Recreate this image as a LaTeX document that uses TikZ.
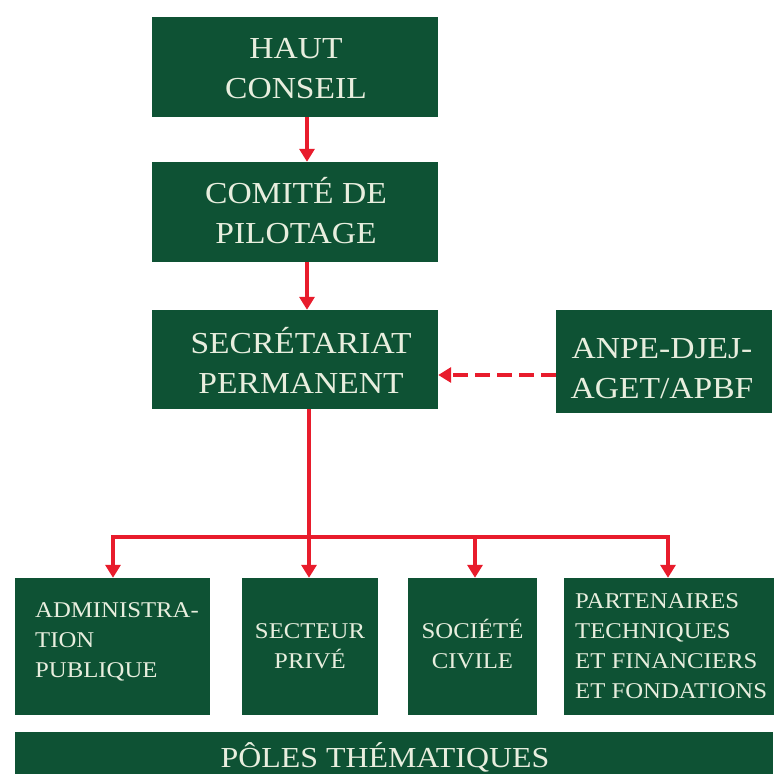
\documentclass[tikz,border=0pt]{standalone}
\usepackage{fontspec}
\setmainfont{Liberation Serif}[FakeStretch=1.1]
\usetikzlibrary{arrows.meta}
\definecolor{boxgreen}{RGB}{14,82,52}
\definecolor{linkred}{RGB}{232,28,44}
\definecolor{boxtext}{RGB}{232,238,222}
\tikzset{
  gbox/.style={fill=boxgreen, draw=none, rectangle, inner sep=0pt},
  bigtxt/.style={text=boxtext, align=center, anchor=base, font=\fontsize{30.5}{40}\selectfont, inner sep=0pt},
  smalltxt/.style={text=boxtext, font=\fontsize{22.5}{30}\selectfont, inner sep=0pt},
  link/.style={draw=linkred, line width=4pt, -{Triangle[length=13pt,width=15pt]}},
  trunk/.style={draw=linkred, line width=4pt},
  dlink/.style={draw=linkred, line width=4.5pt, dash pattern=on 15pt off 7pt, -{Triangle[length=13pt,width=15pt]}},
}
\begin{document}
\begin{tikzpicture}[x=1pt,y=-1pt]
\useasboundingbox (0,0) rectangle (777,774);
\fill[white] (0,0) rectangle (777,774);
% top column
\node[gbox, minimum width=286pt, minimum height=100pt] (hc) at (295,67) {};
\node[bigtxt] (hct) at (296,98) {HAUT\\CONSEIL};
\node[gbox, minimum width=286pt, minimum height=100pt] (cp) at (295,212) {};
\node[bigtxt] (cpt) at (296,243) {COMITÉ DE\\PILOTAGE};
\node[gbox, minimum width=286pt, minimum height=99pt] (sp) at (295,359.5) {};
\node[bigtxt] (spt) at (301,393) {SECRÉTARIAT\\PERMANENT};
\node[gbox, minimum width=216pt, minimum height=103pt] (an) at (664,361.5) {};
\node[bigtxt] (ant) at (662,398) {ANPE-DJEJ-\\AGET/APBF};
% bottom row
\node[gbox, minimum width=195pt, minimum height=137pt] (ad) at (112.5,646.5) {};
\node[smalltxt, anchor=base west, align=left] (adt) at (35,677) {ADMINISTRA-\\TION\\PUBLIQUE};
\node[gbox, minimum width=136pt, minimum height=137pt] (se) at (310,646.5) {};
\node[smalltxt, anchor=base, align=center] (set) at (310,668) {SECTEUR\\PRIVÉ};
\node[gbox, minimum width=129pt, minimum height=137pt] (so) at (472.5,646.5) {};
\node[smalltxt, anchor=base, align=center] (sot) at (472.5,668) {SOCIÉTÉ\\CIVILE};
\node[gbox, minimum width=210pt, minimum height=137pt] (pa) at (669,646.5) {};
\node[smalltxt, anchor=base west, align=left] (pat) at (575,698) {PARTENAIRES\\TECHNIQUES\\ET FINANCIERS\\ET FONDATIONS};
\node[gbox, minimum width=758pt, minimum height=46pt] (po) at (394,755) {};
\node[text=boxtext, font=\fontsize{29}{30}\selectfont, inner sep=0pt, anchor=base] (pot) at (385,767) {PÔLES THÉMATIQUES};
% connectors
\coordinate (c1) at (307,0);
\draw[link] (hc.south -| c1) -- (cp.north -| c1);
\draw[link] (cp.south -| c1) -- (sp.north -| c1);
\draw[dlink] (an.west |- 0,375) -- (sp.east |- 0,375);
\coordinate (hy) at (0,537);
\coordinate (bx) at (309,0);
\draw[trunk] (sp.south -| bx) -- (bx |- hy);
\coordinate (xa) at (113,0);
\coordinate (xs) at (309,0);
\coordinate (xo) at (475,0);
\coordinate (xp) at (668,0);
\draw[trunk] ([xshift=-2pt]xa |- hy) -- ([xshift=2pt]xp |- hy);
\draw[link] (xa |- hy) -- (ad.north -| xa);
\draw[link] (xs |- hy) -- (se.north -| xs);
\draw[link] (xo |- hy) -- (so.north -| xo);
\draw[link] (xp |- hy) -- (pa.north -| xp);
\end{tikzpicture}
\end{document}
